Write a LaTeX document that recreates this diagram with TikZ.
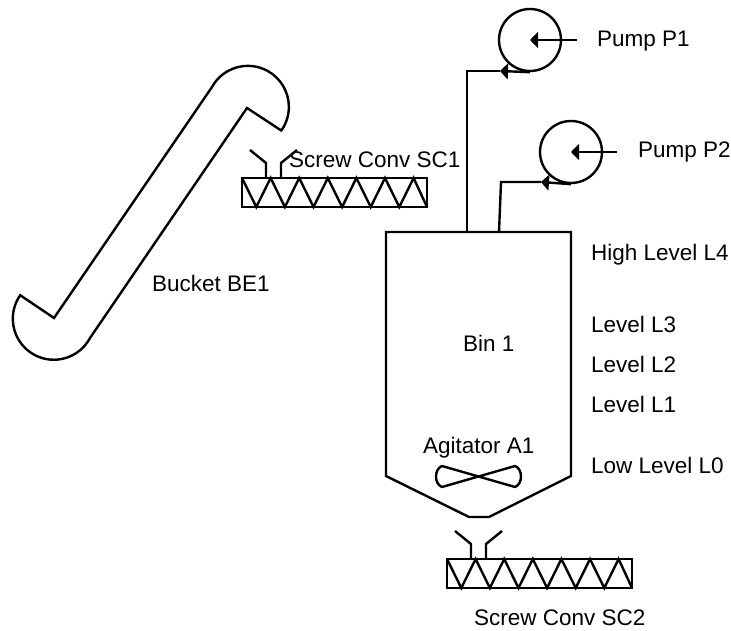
\documentclass[tikz,border=0pt]{standalone}
\usepackage{fontspec}
\setmainfont{Liberation Sans}
\usetikzlibrary{arrows.meta}
\tikzset{
  ln/.style={line width=2.4pt,line join=miter,black},
  lbl/.style={anchor=base west,inner sep=0pt,font=\fontsize{22.5}{24}\selectfont,text=black},
  pump/.style={circle,draw,line width=2.4pt,minimum size=62pt,inner sep=0pt},
  arr/.style={ln,-{Triangle[length=8pt,width=16pt]}},
  screwconv/.pic={
    \draw[ln] (0,0) rectangle (185,29);
    \draw[ln] (0,0) -- (14.3,29) -- (28.6,0) -- (42.9,29) -- (57.2,0) -- (71.5,29) -- (85.8,0) -- (100.1,29) -- (114.4,0) -- (128.7,29) -- (143,0) -- (157.3,29) -- (171.6,0) -- (185,29);
    \draw[ln] (8,-28) -- (24,-15) -- (24,0);
    \draw[ln] (55,-28) -- (39,-15) -- (39,0);
  }
}
\begin{document}
\begin{tikzpicture}[x=1pt,y=-1pt]
\useasboundingbox (0,0) rectangle (731,631);
% bucket elevator
\draw[ln] (282,131) -- (247,108) -- (90,338) arc[start angle=28,end angle=215,radius=41] -- (54,318) -- (212,87) arc[start angle=209,end angle=395,radius=41] ;
% screw conveyors
\pic at (242,178) {screwconv};
\pic at (447,559) {screwconv};
% bin
\draw[ln] (386,232) -- (571,232) -- (571,476) -- (489,517) -- (469,517) -- (386,476) -- cycle;
\coordinate (binA) at (467,232);
\coordinate (binB) at (499,232);
% agitator
\draw[ln,line join=round] (442,466) -- (515,487) .. controls (523,484) and (523,469) .. (515,466) -- (442,487) .. controls (434,484) and (434,469) .. (442,466) -- cycle;
% pumps
\node[pump] (P1) at (530,40) {};
\node[pump] (P2) at (571,152) {};
\coordinate (P1in) at (577,40);
\coordinate (P2in) at (617,152);
\coordinate (P1c) at (530,40);
\coordinate (P2c) at (571,152);
\draw[arr] (P1in) -- (P1c);
\draw[arr] (P2in) -- (P2c);
\coordinate (P1tip) at (500,71);
\coordinate (P2tip) at (541,182);
\coordinate (P1k) at (467,71);
\coordinate (P2k) at (501,182);
\draw[arr] (P1.south) -- (P1tip);
\draw[ln] (P1tip) -- (P1k) -- (binA);
\draw[arr] (P2.south) -- (P2tip);
\draw[ln] (P2tip) -- (P2k) -- (binB);
% labels
\node[lbl] (lp1) at (597,47) {Pump P1};
\node[lbl] (lp2) at (638,158) {Pump P2};
\node[lbl] (ll4) at (591,261) {High Level L4};
\node[lbl] (ll3) at (591,332) {Level L3};
\node[lbl] (ll2) at (591,372) {Level L2};
\node[lbl] (ll1) at (591,412) {Level L1};
\node[lbl] (ll0) at (591,473) {Low Level L0};
\node[lbl] (lbin) at (463,351) {Bin 1};
\node[lbl] (lag) at (423,453) {Agitator A1};
\node[lbl] (lsc1) at (289,168) {Screw Conv SC1};
\node[lbl] (lsc2) at (474,625) {Screw Conv SC2};
\node[lbl] (lbe) at (152,291) {Bucket BE1};
\end{tikzpicture}
\end{document}
